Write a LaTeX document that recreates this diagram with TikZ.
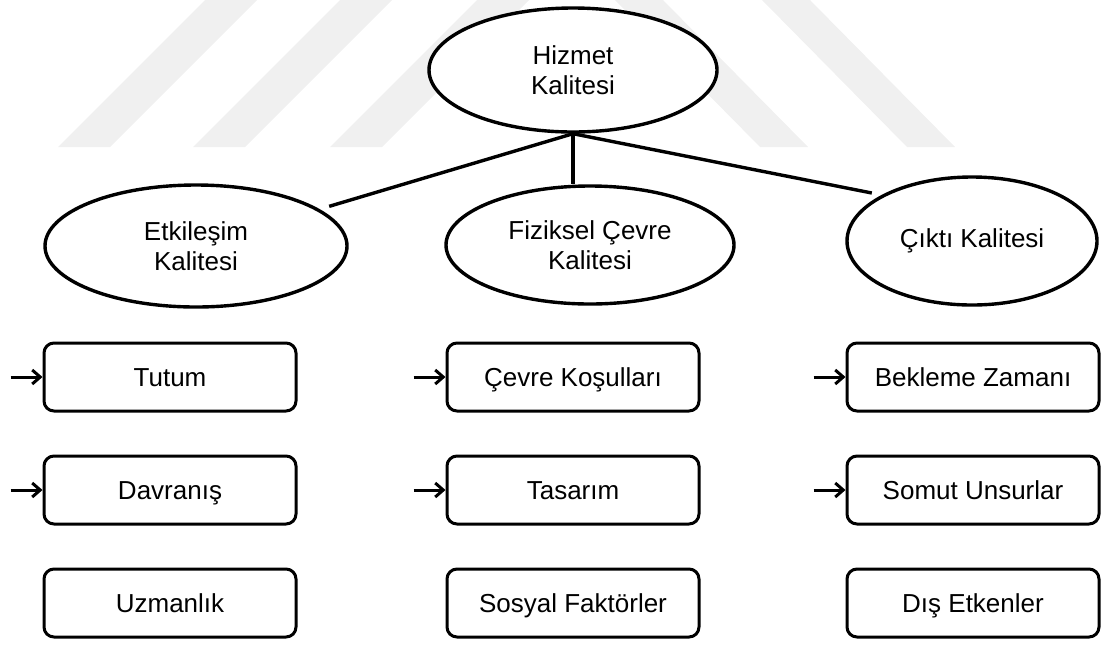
\documentclass[tikz,border=0pt]{standalone}
\usepackage{fontspec}
\setmainfont{Liberation Sans}
\usetikzlibrary{arrows.meta,positioning,shapes.geometric}
\definecolor{MarkGray}{HTML}{F0F0F0}
\tikzset{
  concept/.style={ellipse, draw, line width=1.7pt, fill=white, inner sep=0pt,
    align=center, font=\fontsize{13}{15}\selectfont},
  factor/.style={draw, line width=1.5pt, rounded corners=5pt, fill=white,
    minimum width=126pt, minimum height=34pt, text height=9.5pt, text depth=0pt,
    font=\fontsize{13}{15}\selectfont},
  branch/.style={line width=1.7pt},
  cue/.style={-{Straight Barb[length=4pt,width=7pt]}, line width=1.5pt},
  stripe/.style={fill=MarkGray, draw=none}
}

\begin{document}
\begin{tikzpicture}[x=0.5pt, y=-0.5pt, node distance=21pt and 15pt]
  \useasboundingbox (0,0) rectangle (1101,644);
  % faint watermark
  \foreach \s in {58,193,330}
    \fill[stripe] (\s,147) -- ++(52,0) -- ++(147,-147) -- ++(-52,0) -- cycle;
  \foreach \s in {760,907}
    \fill[stripe] (\s,147) -- ++(48,0) -- ++(-145,-147) -- ++(-48,0) -- cycle;

  \node[concept, minimum width=144pt, minimum height=62pt] (hizmet) at (573,70) {Hizmet\\Kalitesi};
  \node[concept, minimum width=151pt, minimum height=61pt] (etkilesim) at (196,246) {Etkileşim\\Kalitesi};
  \node[concept, minimum width=144pt, minimum height=59pt] (fiziksel) at (590,245) {Fiziksel Çevre\\Kalitesi};
  \node[concept, minimum width=125pt, minimum height=64pt] (cikti) at (972,241) {Çıktı Kalitesi};

  \draw[branch, shorten >=5pt] (hizmet.south) -- (etkilesim);
  \draw[branch] (hizmet.south) -- (hizmet.south |- fiziksel.north);
  \draw[branch, shorten >=5pt] (hizmet.south) -- (cikti.153);

  \node[factor] (tutum) at (170,377) {Tutum};
  \node[factor, below=of tutum] (davranis) {Davranış};
  \node[factor, below=of davranis] (uzmanlik) {Uzmanlık};

  \node[factor] (cevre) at (573,377) {Çevre Koşulları};
  \node[factor, below=of cevre] (tasarim) {Tasarım};
  \node[factor, below=of tasarim] (sosyal) {Sosyal Faktörler};

  \node[factor] (bekleme) at (973,377) {Bekleme Zamanı};
  \node[factor, below=of bekleme] (somut) {Somut Unsurlar};
  \node[factor, below=of somut] (dis) {Dış Etkenler};

  \foreach \n in {tutum,davranis,cevre,tasarim,bekleme,somut} {
    \coordinate[left=16pt of \n.west] (\n cue);
    \draw[cue] (\n cue) -- (\n);
  }
\end{tikzpicture}
\end{document}
